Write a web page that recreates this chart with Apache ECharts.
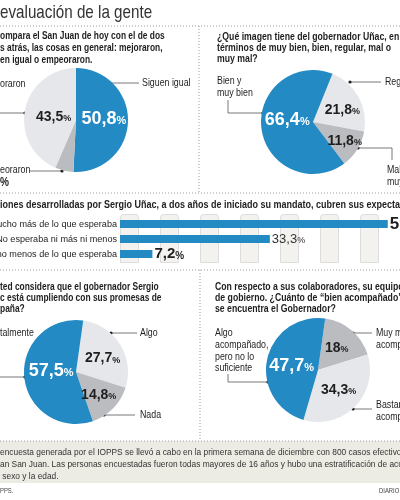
<!DOCTYPE html>
<html>
<head>
<meta charset="utf-8">
<script src="https://cdn.jsdelivr.net/npm/echarts@6/dist/echarts.min.js"></script>
<style>
  html, body { margin: 0; padding: 0; background: #fff; }
  #main { width: 400px; height: 500px; }
</style>
</head>
<body>
<div id="main"></div>
<script>
// datos de la encuesta
var pie1Names = ['Siguen igual', 'Empeoraron', 'Mejoraron'];
var pie1Values = [50.8, 5.7, 43.5];
var pie2Names = ['Regular', 'Mal y muy mal', 'Bien y muy bien'];
var pie2Values = [21.8, 11.8, 66.4];
var pie3Names = ['Algo', 'Nada', 'Totalmente'];
var pie3Values = [27.7, 14.8, 57.5];
var pie4Names = ['Muy mal acompañado', 'Bastante acompañado', 'Algo acompañado, pero no lo suficiente'];
var pie4Values = [18, 34.3, 47.7];
var barCategories = ['Mucho más de lo que esperaba', 'No esperaba ni más ni menos', 'Mucho menos de lo que esperaba'];
var barValues = [59.5, 33.3, 7.2];

var BLUE = '#238ac3', LIGHT = '#e6e7ea', MID = '#babcc0';
var FONT = '"Liberation Sans Narrow", "Liberation Sans", Arial, sans-serif';
var INK = '#1e1e1e';
var SX = 0.84; // la fuente original es condensada

var ctx = document.createElement('canvas').getContext('2d');
function measure(str, font) { ctx.font = font; return ctx.measureText(str).width; }

function fmt(v) { return String(v).replace('.', ','); }

var graphics = [];
function txt(str, x, y, size, weight, color, sx) {
  graphics.push({
    type: 'text', x: x, y: y, scaleX: sx || SX, silent: true,
    style: { text: str, font: (weight || 'normal') + ' ' + size + 'px ' + FONT,
             fill: color || INK, verticalAlign: 'middle' }
  });
}
// texto cortado por el borde izquierdo: el prefijo queda fuera
function cutTxt(prefix, rest, y, size, weight, color, sx) {
  var f = (weight || 'normal') + ' ' + size + 'px ' + FONT;
  txt(prefix + rest, -measure(prefix, f) * (sx || SX), y, size, weight, color, sx);
}
function line(points, dashed) {
  graphics.push({
    type: 'polyline', silent: true, shape: { points: points },
    style: { stroke: dashed ? '#9a9a9a' : '#555', lineWidth: dashed ? 1 : 0.8,
             lineDash: dashed ? [1, 2] : null, fill: null }
  });
}
function dot(x, y) {
  graphics.push({ type: 'circle', silent: true, shape: { cx: x, cy: y, r: 1.6 }, style: { fill: '#222' } });
}

// titulo y separadores
cutTxt('La ', 'evaluación de la gente', 13, 19, 'normal', '#333', 0.8);
line([[0, 26], [400, 26]], true);
line([[199, 26], [199, 193]], true);
line([[0, 193], [400, 193]], true);
line([[0, 270], [400, 270]], true);
line([[200, 270], [200, 441]], true);

// panel 1
cutTxt('Si c', 'ompara el San Juan de hoy con el de dos', 36, 10, 'bold');
cutTxt('año', 's atrás, las cosas en general: mejoraron,', 48, 10, 'bold');
cutTxt('sigu', 'en igual o empeoraron.', 60, 10, 'bold');
line([[110, 83], [139, 83]]); dot(110, 83);
txt(pie1Names[0], 142, 83, 10.5);
cutTxt('Mej', 'oraron', 84, 10.5);
line([[-2, 90], [-2, 113], [25, 113]]); dot(25, 113);
cutTxt('Emp', 'eoraron', 170, 10.5);
line([[29, 171], [62, 171]]); dot(62, 171);
cutTxt(fmt(pie1Values[1]), '%', 183, 12, 'bold');

// panel 2
txt('¿Qué imagen tiene del gobernador Uñac, en', 217, 37, 10, 'bold', INK, 0.87);
txt('términos de muy bien, bien, regular, mal o', 217, 48, 10, 'bold', INK, 0.87);
txt('muy mal?', 217, 59, 10, 'bold', INK, 0.87);
txt('Bien y', 217, 81, 10.5);
txt('muy bien', 217, 93, 10.5);
line([[228, 100], [228, 113], [263, 113]]); dot(263, 113);
line([[350, 82], [381, 82]]); dot(350, 82);
txt(pie2Names[0], 385, 82, 10.5);
line([[358, 148], [392, 148], [392, 160]]); dot(358, 148);
txt('Mal y', 387, 170, 10.5);
txt('muy mal', 387, 182, 10.5);

// panel barras
cutTxt('¿Las acc', 'iones desarrolladas por Sergio Uñac, a dos años de iniciado su mandato, cubren sus expectativas?', 205, 10, 'bold', INK, 0.9);
for (var i = 0; i < 8; i++) {
  graphics.push({
    type: 'rect', silent: true, z: -1,
    shape: { x: 120.5 + 40 * i, y: 214.5, width: 18, height: 48, r: [3, 3, 0, 0] },
    style: { fill: '#f3f2ee', stroke: '#d6d6d6', lineWidth: 0.8 }
  });
}

// panel 3
cutTxt('¿Us', 'ted considera que el gobernador Sergio', 287, 10, 'bold');
cutTxt('Uña', 'c está cumpliendo con sus promesas de', 298, 10, 'bold');
cutTxt('cam', 'paña?', 309, 10, 'bold');
cutTxt('To', 'talmente', 333, 10.5);
line([[-2, 340], [-2, 377], [25, 377]]); dot(25, 377);
line([[111, 333], [137, 333]]); dot(111, 333);
txt(pie3Names[0], 140, 333, 10.5);
line([[104, 415], [135, 415]]); dot(104, 415);
txt(pie3Names[1], 140, 415, 10.5);

// panel 4
txt('Con respecto a sus colaboradores, su equipo', 215, 287, 10, 'bold', INK, 0.87);
txt('de gobierno. ¿Cuánto de “bien acompañado”', 215, 298, 10, 'bold', INK, 0.87);
txt('se encuentra el Gobernador?', 215, 309, 10, 'bold', INK, 0.87);
txt('Algo', 215, 333, 10.5);
txt('acompañado,', 215, 345, 10.5);
txt('pero no lo', 215, 357, 10.5);
txt('suficiente', 215, 368, 10.5);
line([[228, 374], [228, 382], [268, 382]]); dot(268, 382);
line([[353, 333], [372, 333]]); dot(353, 333);
txt('Muy mal', 376, 333, 10.5);
txt('acompañado', 376, 345, 10.5);
line([[353, 409], [372, 409]]); dot(353, 409);
txt('Bastante', 376, 405, 10.5);
txt('acompañado', 376, 417, 10.5);

// nota
graphics.push({ type: 'rect', silent: true, z: -2, shape: { x: 0, y: 441, width: 400, height: 42 }, style: { fill: '#edece4' } });
line([[0, 441], [400, 441]], true);
cutTxt('La ', 'encuesta generada por el IOPPS se llevó a cabo en la primera semana de diciembre con 800 casos efectivos en el', 452, 9.5, 'normal', '#333', 0.88);
cutTxt('Gr', 'an San Juan. Las personas encuestadas fueron todas mayores de 16 años y hubo una estratificación de acuerdo', 464, 9.5, 'normal', '#333', 0.88);
cutTxt('al', ' sexo y la edad.', 476, 9.5, 'normal', '#333', 0.88);
cutTxt('Fuente: IO', 'PPS.', 491, 7, 'normal', '#444');
txt('DIARIO DE CUYO', 379, 491, 7, 'normal', '#444');

var rich = {
  w: { fontFamily: FONT, fontSize: 18, fontWeight: 'bold', color: '#fff', verticalAlign: 'bottom' },
  wp: { fontFamily: FONT, fontSize: 11, fontWeight: 'bold', color: '#fff', verticalAlign: 'bottom', padding: [0, 0, 1, 0] },
  d: { fontFamily: FONT, fontSize: 14, fontWeight: 'bold', color: INK, verticalAlign: 'bottom' },
  dp: { fontFamily: FONT, fontSize: 9, fontWeight: 'bold', color: INK, verticalAlign: 'bottom', padding: [0, 0, 1, 0] }
};

// nudge: pequeño ajuste de la etiqueta interior de cada porción
function makePie(center, names, values, colors, startAngle, nudge, hide) {
  return {
    type: 'pie', center: center, radius: 52, startAngle: startAngle, clockwise: true,
    silent: true, animation: false,
    data: names.map(function (n, i) {
      return { name: n, value: values[i], itemStyle: { color: colors[i] },
               label: { show: i !== hide } };
    }),
    itemStyle: { borderWidth: 0 },
    label: {
      position: 'inside', rich: rich,
      formatter: function (p) {
        var big = p.color === BLUE;
        return big ? '{w|' + fmt(p.value) + '}{wp|%}' : '{d|' + fmt(p.value) + '}{dp|%}';
      }
    },
    labelLayout: function (p) {
      var n = nudge[p.dataIndex] || [0, 0];
      return { dx: n[0], dy: n[1] };
    },
    labelLine: { show: false }
  };
}

var barRich = {
  L: { fontFamily: FONT, fontSize: 17, fontWeight: 'bold', color: INK, verticalAlign: 'bottom' },
  Lp: { fontFamily: FONT, fontSize: 11, fontWeight: 'bold', color: INK, verticalAlign: 'bottom' },
  M: { fontFamily: FONT, fontSize: 13, color: '#333', verticalAlign: 'bottom' },
  Mp: { fontFamily: FONT, fontSize: 9, color: '#333', verticalAlign: 'bottom' },
  S: { fontFamily: FONT, fontSize: 15, fontWeight: 'bold', color: INK, verticalAlign: 'bottom' },
  Sp: { fontFamily: FONT, fontSize: 10, fontWeight: 'bold', color: INK, verticalAlign: 'bottom' }
};
var barKeys = ['L', 'M', 'S'];

var myChart = echarts.init(document.getElementById('main'));
var option = {
  animation: false,
  grid: { left: 120, top: 216.5, width: 450, height: 45, containLabel: false, outerBoundsMode: 'none' },
  xAxis: { type: 'value', min: 0, max: 100, show: false },
  yAxis: {
    type: 'category', data: barCategories, inverse: true,
    axisLine: { show: false }, axisTick: { show: false },
    axisLabel: { fontFamily: FONT, fontSize: 9.1, color: INK, margin: 3 }
  },
  graphic: graphics,
  series: [
    {
      type: 'bar', data: barValues, barWidth: 8, silent: true,
      itemStyle: { color: BLUE },
      label: {
        show: true, position: 'right', distance: 2, rich: barRich,
        formatter: function (p) {
          var k = barKeys[p.dataIndex];
          return '{' + k + '|' + fmt(p.value) + '}{' + k + 'p|%}';
        }
      }
    },
    makePie([76, 120], pie1Names, pie1Values, [BLUE, MID, LIGHT], 90, [[-1, -2], [0, 0], [6, 3]], 1),
    makePie([313, 122], pie2Names, pie2Values, [LIGHT, MID, BLUE], 68, [[4, 2], [7, 4], [3, -6]]),
    makePie([76, 372], pie3Names, pie3Values, [LIGHT, MID, BLUE], 82, [[2, 2], [2, 3], [4, -4]]),
    makePie([318, 370], pie4Names, pie4Values, [MID, LIGHT, BLUE], 82, [[0, 0], [0, 0], [2, 2]])
  ]
};
myChart.setOption(option);
</script>
</body>
</html>
